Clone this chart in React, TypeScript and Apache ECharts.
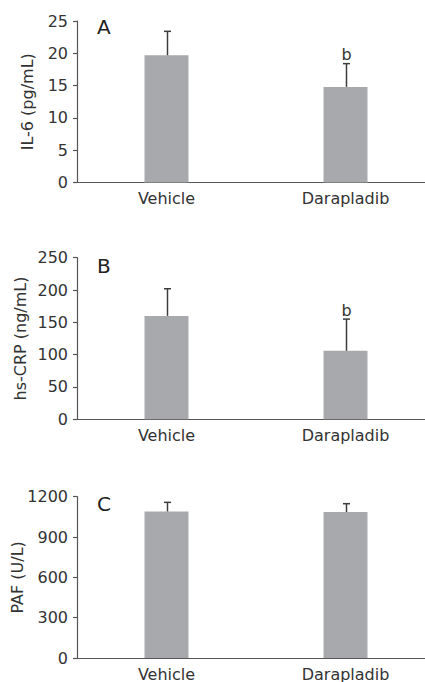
import React, { useEffect, useRef } from "react";
import * as echarts from "echarts";

const categories = ["Vehicle", "Darapladib"];
const panelLetters = ["A", "B", "C"];
const yNames = ["IL-6 (pg/mL)", "hs-CRP (ng/mL)", "PAF (U/L)"];

const il6Mean = [19.7, 14.8];
const il6SD = [3.7, 3.6];
const crpMean = [160, 106];
const crpSD = [42, 49];
const pafMean = [1090, 1086];
const pafSD = [68, 62];

const sigLabels = [
  ["", "b"],
  ["", "b"],
  ["", ""],
];

const yMax = [25, 250, 1200];
const yInterval = [5, 50, 300];

const FONT = "DejaVu Sans";
const TEXT = "#333333";
const AXIS = "#555555";
const BAR = "#a8a9ac";
const ERR = "#3c3c3c";

export default function App() {
  const ref = useRef<HTMLDivElement>(null);

  useEffect(() => {
    if (!ref.current) return;
    const chart = echarts.init(ref.current, null, { renderer: "svg" });

    const means = [il6Mean, crpMean, pafMean];
    const sds = [il6SD, crpSD, pafSD];

    const grids = [
      { left: 77, top: 21, width: 358, height: 161.5, outerBoundsMode: "none", containLabel: false },
      { left: 77, top: 257.7, width: 358, height: 161.6, outerBoundsMode: "none", containLabel: false },
      { left: 77, top: 496.7, width: 358, height: 161.3, outerBoundsMode: "none", containLabel: false },
    ];
    const nameGaps = [42, 49, 52];
    const titleTops = [16.5, 256, 494];

    const xAxis = grids.map((_, i) => ({
      type: "category",
      gridIndex: i,
      data: categories,
      axisLine: { lineStyle: { color: AXIS, width: 1.2 } },
      axisTick: { show: false },
      axisLabel: { color: TEXT, fontFamily: FONT, fontSize: 16, margin: 8 },
    }));

    const yAxis = grids.map((_, i) => ({
      type: "value",
      gridIndex: i,
      min: 0,
      max: yMax[i],
      interval: yInterval[i],
      name: yNames[i],
      nameLocation: "middle",
      nameGap: nameGaps[i],
      nameMoveOverlap: false,
      nameTextStyle: { color: TEXT, fontFamily: FONT, fontSize: 16 },
      splitLine: { show: false },
      axisLine: { show: true, lineStyle: { color: AXIS, width: 1.2 } },
      axisTick: { show: true, length: 4, lineStyle: { color: AXIS, width: 1.2 } },
      axisLabel: {
        color: TEXT,
        fontFamily: FONT,
        fontSize: 16,
        margin: 9,
        formatter: (v: number) => String(v),
      },
    }));

    const series: any[] = [];
    grids.forEach((_, i) => {
      series.push({
        type: "bar",
        xAxisIndex: i,
        yAxisIndex: i,
        data: means[i],
        barWidth: 44,
        itemStyle: { color: BAR },
        silent: true,
      });
      series.push({
        type: "custom",
        xAxisIndex: i,
        yAxisIndex: i,
        data: means[i].map((m, j) => [j, m, m + sds[i][j], j]),
        renderItem: (params: any, api: any) => {
          const x = api.value(0);
          const low = api.coord([x, api.value(1)]);
          const high = api.coord([x, api.value(2)]);
          const sig = sigLabels[i][api.value(3)];
          const cx = low[0] + 1;
          const children: any[] = [
            {
              type: "line",
              shape: { x1: cx, y1: low[1], x2: cx, y2: high[1] },
              style: { stroke: ERR, lineWidth: 1.5 },
            },
            {
              type: "line",
              shape: { x1: cx - 3.5, y1: high[1], x2: cx + 3.5, y2: high[1] },
              style: { stroke: ERR, lineWidth: 1.5 },
            },
          ];
          if (sig) {
            children.push({
              type: "text",
              x: cx,
              y: high[1] - 1,
              style: {
                text: sig,
                textAlign: "center",
                textVerticalAlign: "bottom",
                fontFamily: FONT,
                fontSize: 16,
                fill: TEXT,
              },
            });
          }
          return { type: "group", children };
        },
        silent: true,
        z: 3,
      });
    });

    chart.setOption({
      animation: false,
      backgroundColor: "#ffffff",
      title: panelLetters.map((t, i) => ({
        text: t,
        left: 97,
        top: titleTops[i],
        padding: 0,
        textStyle: { color: "#222222", fontFamily: FONT, fontSize: 20, fontWeight: "normal" },
      })),
      grid: grids,
      xAxis,
      yAxis,
      series,
    });

    return () => chart.dispose();
  }, []);

  return (
    <div
      ref={ref}
      style={{ position: "absolute", left: 0, top: 0, width: 425, height: 682 }}
    />
  );
}
